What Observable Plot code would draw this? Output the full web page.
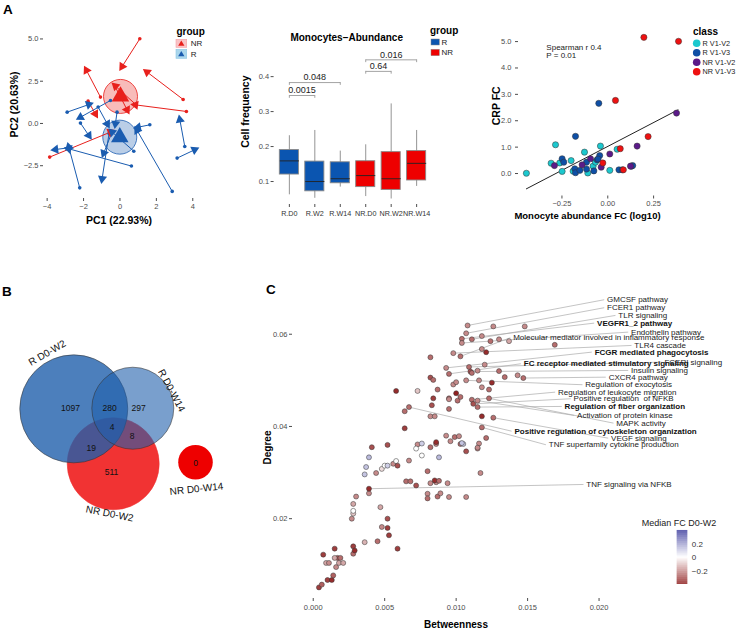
<!DOCTYPE html>
<html><head><meta charset="utf-8">
<script src="https://cdn.jsdelivr.net/npm/d3@7"></script>
<script src="https://cdn.jsdelivr.net/npm/@observablehq/plot@0.6"></script>
<style>
body{margin:0;background:#fff;}
#root{position:relative;width:737px;height:631px;overflow:hidden;background:#fff;}
</style></head><body><div id="root"></div>
<script>
const FONT = "'Liberation Sans', Arial, Helvetica, sans-serif";

// ---------- Panel A (PCA) data: [x start, y start, x end, y end] ----------
const pcaNR = [
  [1.09,5.01,0.12,3.37],[-1.07,1.56,-1.84,3.14],[3.47,1.42,1.49,3.04],[3.65,0.71,0.85,1.10],
  [0.89,1.10,-0.25,2.21],[-0.25,2.15,0.39,0.81],[-1.75,1.32,-1.35,0.57],[-3.86,-1.99,-0.52,-0.51]
];
const pcaR = [
  [-2.90,0.67,-1.71,1.12],[-0.52,1.36,-2.17,0.37],[-1.20,0.97,-0.70,-0.02],[-2.17,0.02,-1.71,-0.71],
  [0.63,-2.52,-2.81,-1.50],[-2.21,-3.81,-2.81,-1.40],[-2.81,-1.44,-3.54,-1.54],[-0.60,-0.60,-0.98,-3.27],
  [-0.45,-0.55,-0.89,-1.75],[-0.16,0.67,-0.25,-0.02],[0.76,-1.64,-0.43,-0.51],[1.64,-0.08,1.00,-0.22],
  [2.87,-4.02,0.94,-0.41],[3.56,-1.36,3.29,0.22],[3.14,-2.05,4.10,-1.56]
];
const pcaCentroidGroup = ["NR","R"];
const pcaCentroidX = [0.03,-0.01];
const pcaCentroidY = [1.60,-0.81];
const pcaXTicks = [-4,-2,0,2,4];
const pcaYTicks = [-2.5,0,2.5,5];

// ---------- Panel A (boxplot) data ----------
const boxCats = ["R.D0","R.W2","R.W14","NR.D0","NR.W2","NR.W14"];
const boxGroup = ["R","R","R","NR","NR","NR"];
const boxLo  = [0.062,0.052,0.084,0.057,0.050,0.086];
const boxQ1  = [0.120,0.072,0.095,0.084,0.076,0.103];
const boxMed = [0.159,0.100,0.108,0.117,0.108,0.152];
const boxQ3  = [0.190,0.157,0.155,0.158,0.184,0.187];
const boxHi  = [0.231,0.246,0.187,0.205,0.322,0.246];
const brFrom = [0,0,3,3];
const brTo   = [1,2,4,5];
const brY    = [0.346,0.383,0.415,0.448];
const brP    = ["0.0015","0.048","0.64","0.016"];
const boxYTicks = [0.1,0.2,0.3,0.4];

// ---------- Panel A (CRP scatter) data ----------
const crpClasses = ["R V1-V2","R V1-V3","NR V1-V2","NR V1-V3"];
const rv12X = [-0.444,-0.309,-0.285,-0.262,-0.249,-0.200,-0.189,-0.127,-0.109,-0.080,-0.067,-0.040,0.011,0.051];
const rv12Y = [0.01,0.39,1.09,0.40,0.08,0.49,0.09,0.81,0.02,0.28,0.43,1.04,0.12,0.92];
const rv13X = [-0.249,-0.240,-0.176,-0.180,-0.176,-0.152,-0.116,-0.116,-0.076,-0.058,-0.049,-0.044,-0.053,0.061,0.079,0.129,0.136];
const rv13Y = [0.56,0.43,1.41,0.18,0.03,0.12,0.43,0.17,0.10,0.52,2.66,0.68,0.55,0.14,0.14,0.28,0.30];
const nrv12X = [-0.291,-0.140,-0.094,-0.036,0.011,0.124,0.160,0.375];
const nrv12Y = [0.30,0.33,0.56,0.24,0.74,0.28,1.04,2.29];
const nrv13X = [0.197,0.386,0.042,0.220,0.068,-0.027,0.085];
const nrv13Y = [5.16,5.01,2.77,1.40,0.94,0.40,0.14];
const crpFitX = [-0.444,0.383];
const crpSlope = 3.62, crpIntercept = 1.027;
const crpXTicks = [-0.25,0,0.25];
const crpYTicks = [0,1,2,3,4,5];

// ---------- Panel B (Venn) data ----------
const vennSets = ["NR D0-W2","R D0-W2","R D0-W14","NR D0-W14"];
const vennRegionCounts = [1097,280,297,4,8,19,511,0];
// Venn layout (diagram units)
const vennCx = [20.87,13.57,24.5,36.11];
const vennCy = [33.94,23.77,23.65,33.65];
const vennRad = [8.52,10,7.59,3.2];
const vennRegionX = [12.96,20.19,25.56,20.68,24.39,16.8,20.56,36.11];
const vennRegionY = [23.7,23.7,23.7,27.17,28.89,31.06,35.5,33.83];
const vennLabelX = [20.22,8.65,31.67,36.3];
const vennLabelY = [43.2,13.43,20.37,38.6];
const vennLabelRot = [11,-30,62,-6];

// ---------- Panel C (network) data ----------
const betw = [0.0004,0.0006,0.0010,0.0013,0.0014,0.0016,0.0018,0.0017,0.0015,0.0019,0.0021,0.0009,0.0007,0.0011,0.0015,0.0028,0.0028,0.0029,0.0036,0.0045,
0.0048,0.0052,0.0053,0.0059,0.0052,0.0047,0.0039,0.0030,0.0027,0.0028,0.0028,0.0028,0.0039,0.0036,0.0037,0.0039,0.0041,0.0044,0.0048,0.0050,
0.0052,0.0056,0.0058,0.0059,0.0052,0.0065,0.0068,0.0072,0.0067,0.0064,0.0064,0.0067,0.0058,0.0073,0.0073,0.0076,0.0076,0.0072,0.0080,0.0082,
0.0080,0.0080,0.0087,0.0089,0.0086,0.0085,0.0088,0.0095,0.0094,0.0107,0.0082,0.0086,0.0086,0.0088,0.0093,0.0096,0.0099,0.0102,0.0103,0.0105,
0.0107,0.0115,0.0116,0.0117,0.0082,0.0082,0.0084,0.0087,0.0084,0.0083,0.0082,0.0085,0.0093,0.0095,0.0098,0.0100,0.0095,0.0095,0.0100,0.0101,
0.0103,0.0098,0.0103,0.0108,0.0107,0.0104,0.0104,0.0111,0.0109,0.0110,0.0111,0.0115,0.0107,0.0111,0.0112,0.0115,0.0115,0.0116,0.0118,0.0124,
0.0130,0.0137,0.0121,0.0118,0.0120,0.0130,0.0134,0.0143,0.0125,0.0123,0.0123,0.0126,0.0118,0.0118,0.0121,0.0115,0.0126,0.0148,0.0169,0.0147,
0.0118,0.0104,0.0095];
const degr = [0.0051,0.0057,0.0067,0.0067,0.0077,0.0095,0.0104,0.0115,0.0115,0.0115,0.0104,0.0104,0.0122,0.0104,0.0135,0.0140,0.0124,0.0131,0.0149,0.0151,
0.0182,0.0180,0.0164,0.0135,0.0200,0.0225,0.0255,0.0248,0.0200,0.0211,0.0232,0.0217,0.0265,0.0296,0.0312,0.0333,0.0355,0.0299,0.0308,0.0315,
0.0315,0.0319,0.0325,0.0315,0.0360,0.0281,0.0281,0.0272,0.0326,0.0396,0.0433,0.0442,0.0477,0.0477,0.0361,0.0337,0.0363,0.0352,0.0303,0.0277,
0.0254,0.0244,0.0248,0.0255,0.0279,0.0283,0.0282,0.0247,0.0277,0.0247,0.0355,0.0362,0.0366,0.0333,0.0380,0.0368,0.0377,0.0379,0.0362,0.0362,
0.0346,0.0352,0.0363,0.0299,0.0550,0.0506,0.0501,0.0480,0.0461,0.0446,0.0422,0.0422,0.0527,0.0514,0.0491,0.0496,0.0461,0.0438,0.0472,0.0456,
0.0464,0.0559,0.0552,0.0619,0.0602,0.0590,0.0581,0.0589,0.0529,0.0519,0.0516,0.0521,0.0500,0.0458,0.0449,0.0442,0.0456,0.0500,0.0596,0.0585,
0.0589,0.0585,0.0561,0.0568,0.0534,0.0520,0.0507,0.0511,0.0495,0.0480,0.0461,0.0419,0.0422,0.0398,0.0375,0.0354,0.0617,0.0617,0.0577,0.0505,
0.0485,0.0364,0.0459];
const medFC = [-0.33,-0.27,-0.33,-0.36,-0.27,-0.2,-0.15,-0.3,-0.15,-0.25,-0.15,-0.15,-0.33,-0.2,-0.33,-0.33,-0.25,-0.36,-0.13,-0.25,
-0.2,-0.33,-0.33,-0.33,-0.3,-0.15,-0.2,-0.2,-0.2,-0.1,-0.15,0.0,-0.36,0.12,0.12,0.14,-0.3,-0.2,-0.06,0.0,
0.1,-0.2,0.0,-0.3,-0.3,-0.25,-0.25,-0.3,-0.2,-0.33,-0.25,-0.25,-0.36,-0.1,-0.2,0.0,0.1,0.0,-0.25,-0.2,
-0.2,-0.25,-0.25,-0.2,-0.2,-0.36,-0.25,-0.2,-0.2,-0.2,-0.25,-0.2,-0.36,0.14,-0.2,-0.2,-0.25,-0.2,-0.25,0.1,
-0.3,-0.2,-0.2,-0.2,-0.25,-0.3,-0.25,-0.25,-0.33,-0.3,-0.2,-0.2,-0.2,-0.25,-0.2,-0.2,-0.25,-0.25,-0.38,-0.25,
-0.25,-0.2,-0.25,-0.2,-0.2,-0.25,-0.2,-0.25,-0.25,-0.3,-0.25,-0.2,-0.2,-0.25,-0.3,-0.25,-0.2,-0.2,-0.2,-0.25,
-0.2,-0.15,-0.36,-0.2,-0.2,-0.25,-0.25,-0.2,-0.36,-0.25,-0.25,-0.25,-0.36,-0.25,-0.25,-0.2,-0.2,-0.2,-0.25,-0.25,
-0.2,0.12,-0.2];
const pathNames = ["GMCSF pathway","FCER1 pathway","TLR signaling","VEGFR1_2 pathway","Endothelin pathway",
"Molecular mediator involved in inflammatory response","TLR4 cascade","FCGR mediated phagocytosis","FCERI signaling",
"FC receptor mediated stimulatory signaling","Insulin signaling","CXCR4 pathway","Regulation of exocytosis",
"Regulation of leukocyte migration","Positive regulation  of NFKB","Regulation of fiber organization",
"Activation of protein kinase","MAPK activity","Positive regulation of cytoskeleton organization","VEGF signaling",
"TNF superfamily cytokine production","TNF signaling via NFKB"];
const pathBold = [0,0,0,1,0,0,0,1,0,1,0,0,0,0,0,1,0,0,1,0,0,0];
const pathSrcBetw = [0.0108,0.0107,0.0111,0.0104,0.0104,0.0103,0.0098,0.0093,0.0109,0.0095,0.0110,0.0147,0.0107,0.0111,0.0112,0.0115,0.0115,0.0123,0.0067,0.0126,0.0118,0.0039];
const pathSrcDegr = [0.0619,0.0602,0.0589,0.0590,0.0581,0.0552,0.0559,0.0527,0.0529,0.0514,0.0519,0.0505,0.0500,0.0458,0.0449,0.0442,0.0456,0.0461,0.0442,0.0419,0.0398,0.0265];
// repelled label placement (data units)
const pathLabBetw = [0.02056,0.02056,0.02135,0.01986,0.02224,0.01399,0.02247,0.01969,0.02457,0.01473,0.02224,0.02067,0.01904,0.01713,0.01822,0.01759,0.01846,0.02121,0.01408,0.02084,0.01648,0.01911];
const pathLabDegr = [0.06748,0.06575,0.06408,0.06241,0.06046,0.05924,0.05757,0.05612,0.05395,0.0536,0.05215,0.05069,0.04905,0.04744,0.04601,0.04434,0.04239,0.04072,0.03898,0.03746,0.03603,0.02742];
const cXTicks = [0,0.005,0.01,0.015,0.02];
const cYTicks = [0.02,0.04,0.06];
const fcLegendTicks = [-0.2,0,0.2];

// ---------- helpers ----------
const root = document.getElementById("root");
function put(node, left, top){ node.style.position="absolute"; node.style.left=left+"px"; node.style.top=top+"px"; root.appendChild(node); }
const st = (fs, col) => ({fontFamily: FONT, fontSize: fs, color: col, background: "none", overflow: "visible"});

// ---------- PCA ----------
{
  const W=240,H=230,ml=43,mr=36.8,mt=30,mb=32, xd=[-4.2,4.6], yd=[-4.44,5.5];
  const kx=(W-ml-mr)/(xd[1]-xd[0]), ky=(H-mt-mb)/(yd[1]-yd[0]);
  const segs=[...pcaNR.map(s=>({g:"NR",s})),...pcaR.map(s=>({g:"R",s}))].map(({g,s})=>({
    group:g,x0:s[0],y0:s[1],x1:s[2],y1:s[3],angle:Math.atan2((s[2]-s[0])*kx,(s[3]-s[1])*ky)*180/Math.PI}));
  const cents=pcaCentroidGroup.map((g,i)=>({group:g,x:pcaCentroidX[i],y:pcaCentroidY[i]}));
  const svg=Plot.plot({width:W,height:H,marginLeft:ml,marginRight:mr,marginTop:mt,marginBottom:mb,
    style:st("7.5px","#4d4d4d"),
    x:{domain:xd,ticks:pcaXTicks,tickSize:3,tickPadding:2,label:null},
    y:{domain:yd,ticks:pcaYTicks,tickFormat:".1f",tickSize:3,tickPadding:2,label:null},
    color:{domain:["NR","R"],range:["#E8201C","#1A5CB0"]},
    marks:[
      Plot.dot(cents,{x:"x",y:"y",r:17,fill:"group",fillOpacity:0.3,stroke:"group",strokeWidth:0.8}),
      Plot.link(segs,{x1:"x0",y1:"y0",x2:"x1",y2:"y1",stroke:"group",strokeWidth:1}),
      Plot.dot(segs,{x:"x0",y:"y0",r:1.8,fill:"group"}),
      Plot.dot(segs,{x:"x1",y:"y1",r:3.4,symbol:"triangle",rotate:"angle",fill:"group"}),
      Plot.dot(cents,{x:"x",y:"y",r:6.5,symbol:"triangle",fill:"group"})
    ]});
  put(svg,0,0);
}

// ---------- Boxplot ----------
{
  const boxes=boxCats.map((c,i)=>({i,cat:c,group:boxGroup[i],lo:boxLo[i],q1:boxQ1[i],med:boxMed[i],q3:boxQ3[i],hi:boxHi[i]}));
  const brs=brFrom.map((f,k)=>({f,t:brTo[k],y:brY[k],p:brP[k]}));
  const ends=brs.flatMap(b=>[{x:b.f,y:b.y},{x:b.t,y:b.y}]);
  const hw=0.375;
  const svg=Plot.plot({width:250,height:230,marginLeft:43.6,marginRight:48.6,marginTop:52,marginBottom:26,
    style:st("7.5px","#4d4d4d"),
    x:{domain:[-0.6,5.6],ticks:d3.range(boxCats.length),tickFormat:i=>boxCats[i],tickSize:3,tickPadding:3,label:null},
    y:{domain:[0.0343,0.469],ticks:boxYTicks,tickFormat:".1f",tickSize:3,tickPadding:2,label:null},
    color:{domain:["R","NR"],range:["#0B55B0","#EE0000"]},
    marks:[
      Plot.ruleX(boxes,{x:"i",y1:"lo",y2:"hi",stroke:"#888",strokeWidth:0.9}),
      Plot.rect(boxes,{x1:d=>d.i-hw,x2:d=>d.i+hw,y1:"q1",y2:"q3",fill:"group",stroke:"#888",strokeWidth:0.9}),
      Plot.link(boxes,{x1:d=>d.i-hw,x2:d=>d.i+hw,y1:"med",y2:"med",stroke:"#222",strokeWidth:0.9}),
      Plot.link(brs,{x1:"f",x2:"t",y1:"y",y2:"y",stroke:"#999",strokeWidth:0.9}),
      Plot.ruleX(ends,{x:"x",y1:d=>d.y-0.008,y2:"y",stroke:"#999",strokeWidth:0.9}),
      Plot.text(brs,{x:d=>(d.f+d.t)/2,y:"y",text:"p",dy:-5,fontSize:9,fill:"#222"})
    ]});
  svg.querySelectorAll('[aria-label="x-axis tick label"] text').forEach(t=>{t.style.fill="#333";t.style.fontSize="7.2px";});
  put(svg,230,0);
}

// ---------- CRP scatter ----------
{
  const pts=[
    ...rv12X.map((x,i)=>({x,y:rv12Y[i],c:crpClasses[0]})),
    ...rv13X.map((x,i)=>({x,y:rv13Y[i],c:crpClasses[1]})),
    ...nrv12X.map((x,i)=>({x,y:nrv12Y[i],c:crpClasses[2]})),
    ...nrv13X.map((x,i)=>({x,y:nrv13Y[i],c:crpClasses[3]}))];
  const fit=crpFitX.map(x=>({x,y:crpIntercept+crpSlope*x}));
  const svg=Plot.plot({width:257,height:230,marginLeft:38,marginRight:52,marginTop:30,marginBottom:34.5,
    style:st("7.5px","#4d4d4d"),
    x:{domain:[-0.487,0.424],ticks:crpXTicks,tickFormat:".2f",tickSize:3,tickPadding:2,label:null},
    y:{domain:[-0.852,5.42],ticks:crpYTicks,tickSize:3,tickPadding:4,label:null},
    color:{domain:crpClasses,range:["#1CC8CE","#0E4FA6","#5B1A89","#EE1111"]},
    marks:[
      Plot.line(fit,{x:"x",y:"y",stroke:"#222",strokeWidth:1}),
      Plot.dot(pts,{x:"x",y:"y",r:3.1,fill:"c",stroke:"#333",strokeWidth:0.5}),
      Plot.text(["Spearman r 0.4\nP = 0.01"],{x:-0.335,y:4.9,text:d=>d,textAnchor:"start",lineAnchor:"top",fontSize:8,fill:"#222"})
    ]});
  put(svg,480,0);
}

// ---------- Venn ----------
{
  const U=5.4, W=250, H=300;
  const fills=["#EE0000","#1F5FAB","#1F5FAB","#EE0000"];
  const ops=[0.8,0.8,0.6,1];
  const strokes=["#ee3333","#333","#333","none"];
  const circles=vennSets.map((s,i)=>({s,cx:vennCx[i],cy:vennCy[i],r:vennRad[i]}));
  const regions=vennRegionCounts.map((n,i)=>({n,x:vennRegionX[i],y:vennRegionY[i]}));
  const labs=vennSets.map((s,i)=>({s,x:vennLabelX[i],y:vennLabelY[i],rot:vennLabelRot[i]}));
  const marks=circles.map((c,i)=>Plot.dot([c],{x:"cx",y:"cy",r:"r",fill:fills[i],fillOpacity:ops[i],stroke:strokes[i],strokeOpacity:0.7,strokeWidth:0.8}));
  marks.push(Plot.text(regions,{x:"x",y:"y",text:d=>String(d.n),fontSize:8.5,fill:"#111"}));
  marks.push(Plot.text(labs,{x:"x",y:"y",text:"s",rotate:"rot",fontSize:10,fill:"#111"}));
  const svg=Plot.plot({width:W,height:H,margin:0,style:st("10px","#111"),
    x:{domain:[0,W/U],axis:null},y:{domain:[0,H/U],reverse:true,axis:null},
    r:{type:"linear",domain:[0,1],range:[0,U]},
    marks});
  put(svg,0,280);
}

// ---------- Panel C ----------
{
  const pts=betw.map((b,i)=>({b,d:degr[i],fc:medFC[i]}));
  const labs=pathNames.map((n,i)=>({n,bold:pathBold[i],sx:pathSrcBetw[i],sy:pathSrcDegr[i],lx:pathLabBetw[i],ly:pathLabDegr[i]}));
  const colorSpec={type:"linear",domain:[-0.4,0,0.4],range:["#8A1515","#FFFFFF","#3A3A9C"]};
  const svg=Plot.plot({width:477,height:351,marginLeft:32,marginRight:117,marginTop:15,marginBottom:33,
    style:st("7.5px","#4d4d4d"),
    x:{domain:[-0.00145,0.0215],ticks:cXTicks,tickFormat:".3f",tickSize:3,tickPadding:3,label:null},
    y:{domain:[0.00269,0.0684],ticks:cYTicks,tickFormat:".2f",tickSize:3,tickPadding:2,label:null},
    color:colorSpec,
    marks:[
      Plot.link(labs,{x1:"sx",y1:"sy",x2:d=>d.lx-0.0002,y2:"ly",stroke:"#aaa",strokeWidth:0.7}),
      Plot.dot(pts,{x:"b",y:"d",r:2.5,fill:"fc",stroke:"#333",strokeWidth:0.5}),
      Plot.text(labs.filter(d=>!d.bold),{x:"lx",y:"ly",text:"n",textAnchor:"start",fontSize:8,fill:"#222"}),
      Plot.text(labs.filter(d=>d.bold),{x:"lx",y:"ly",text:"n",textAnchor:"start",fontSize:8,fontWeight:"bold",fill:"#111"})
    ]});
  put(svg,260,280);
  const step=0.01;
  const grad=d3.range(-0.4,0.4,step);
  const leg=Plot.plot({width:50,height:65,marginLeft:6.7,marginRight:32.7,marginTop:5,marginBottom:6,
    style:st("8px","#333"),
    x:{domain:[0,1],axis:null},
    y:{domain:[-0.4,0.4],axis:"right",ticks:fcLegendTicks,tickFormat:d=>d===0?"0":d3.format(".1f")(d),tickSize:0,tickPadding:4,label:null},
    color:colorSpec,
    marks:[Plot.rect(grad,{x1:0,x2:1,y1:d=>d,y2:d=>d+step*1.05,fill:d=>d+step/2})]});
  put(leg,670,525);
}

// ---------- overlay text / legends ----------
function tri(cx,cy,s){return `M${cx},${cy-s}L${cx+s*0.87},${cy+s*0.5}L${cx-s*0.87},${cy+s*0.5}Z`;}
const classCols=["#1CC8CE","#0E4FA6","#5B1A89","#EE1111"];
const classYs=[43.3,52.7,62.3,71.7];
let ov=`<svg xmlns="http://www.w3.org/2000/svg" width="737" height="631" style="position:absolute;left:0;top:0;pointer-events:none;font-family:${FONT}">
<g font-weight="bold" font-size="13.5" fill="#000">
<text x="3" y="14">A</text><text x="2" y="296">B</text><text x="266" y="294">C</text></g>
<g font-weight="bold" font-size="10.5" fill="#000" text-anchor="middle">
<text x="119" y="220" dy="0.35em">PC1 (22.93%)</text>
<text transform="translate(14.7,104.5) rotate(-90)" dy="0.35em">PC2 (20.63%)</text>
<text transform="translate(245.8,111.7) rotate(-90)" dy="0.35em">Cell frequency</text>
<text transform="translate(496.7,105.8) rotate(-90)" dy="0.35em">CRP FC</text>
<text x="346.7" y="37.7" dy="0.35em" font-size="10">Monocytes\u2212Abundance</text>
<text x="587.5" y="215.8" dy="0.35em" font-size="9.5">Monocyte abundance FC (log10)</text>
<text transform="translate(267,447.5) rotate(-90)" dy="0.35em" font-size="10">Degree</text>
<text x="456" y="624" dy="0.35em" font-size="10">Betweenness</text>
</g>
<g font-weight="bold" font-size="10" fill="#000">
<text x="176.5" y="31.7" dy="0.35em">group</text>
<text x="430" y="30.5" dy="0.35em">group</text>
<text x="693" y="31.3" dy="0.35em">class</text></g>
<rect x="176" y="39.3" width="10.7" height="8" fill="#F9C3C6" stroke="#F4A0A6" stroke-width="0.6"/>
<path d="${tri(181.3,44,3.6)}" fill="#E8201C"/>
<rect x="176" y="49.3" width="10.7" height="9" fill="#AAD6EC" stroke="#8cc6e4" stroke-width="0.6"/>
<path d="${tri(181.3,54.5,3.6)}" fill="#1A5CB0"/>
<g font-size="8" fill="#222">
<text x="190.7" y="43.3" dy="0.35em">NR</text><text x="190.7" y="53.8" dy="0.35em">R</text>
<text x="441.5" y="42" dy="0.35em">R</text><text x="441.5" y="52.5" dy="0.35em">NR</text>
</g>
<g font-size="7.3" fill="#222">
${crpClasses.map((c,i)=>`<text x="702.5" y="${classYs[i]}" dy="0.35em">${c}</text>`).join("")}
</g>
<rect x="431" y="39" width="8.3" height="6" fill="#0B55B0" stroke="#888" stroke-width="0.5"/>
<rect x="431" y="49.3" width="8.3" height="6.4" fill="#EE0000" stroke="#888" stroke-width="0.5"/>
${classCols.map((c,i)=>`<circle cx="696.7" cy="${classYs[i]}" r="3.8" fill="${c}"/>`).join("")}
<text x="679" y="522.7" dy="0.35em" text-anchor="middle" font-size="9" fill="#222">Median FC D0-W2</text>
</svg>`;
const holder=document.createElement("div");
holder.innerHTML=ov;
root.appendChild(holder.firstElementChild);
</script></body></html>
